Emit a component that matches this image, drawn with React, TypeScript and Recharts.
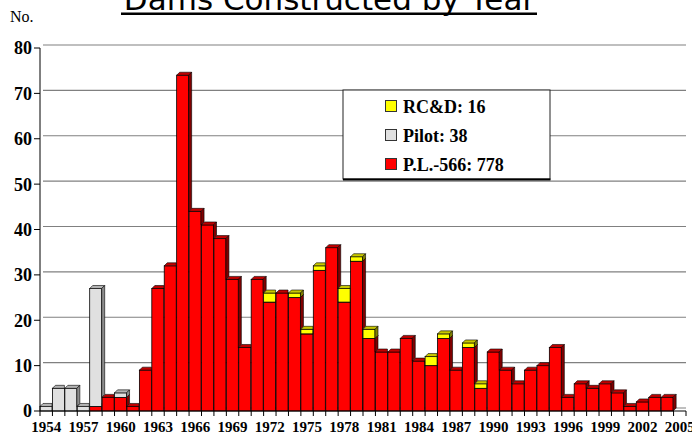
import { Bar, BarChart, CartesianGrid, XAxis, YAxis } from "recharts";

const years = [
  "1954", "1955", "1956", "1957", "1958", "1959", "1960", "1961", "1962", "1963",
  "1964", "1965", "1966", "1967", "1968", "1969", "1970", "1971", "1972", "1973",
  "1974", "1975", "1976", "1977", "1978", "1979", "1980", "1981", "1982", "1983",
  "1984", "1985", "1986", "1987", "1988", "1989", "1990", "1991", "1992", "1993",
  "1994", "1995", "1996", "1997", "1998", "1999", "2000", "2001", "2002", "2003",
  "2004", "2005",
];

// P.L.-566 dams per year (red)
const plValues = [
  0, 0, 0, 0, 1, 3, 3, 1, 9, 27,
  32, 74, 44, 41, 38, 29, 14, 29, 24, 26,
  25, 17, 31, 36, 24, 33, 16, 13, 13, 16,
  11, 10, 16, 9, 14, 5, 13, 9, 6, 9,
  10, 14, 3, 6, 5, 6, 4, 1, 2, 3,
  3, 0,
];

// Pilot dams (grey)
const pilotValues = [
  1, 5, 5, 1, 26, 0, 1, 0, 0, 0,
  0, 0, 0, 0, 0, 0, 0, 0, 0, 0,
  0, 0, 0, 0, 0, 0, 0, 0, 0, 0,
  0, 0, 0, 0, 0, 0, 0, 0, 0, 0,
  0, 0, 0, 0, 0, 0, 0, 0, 0, 0,
  0, 0,
];

// RC&D dams (yellow)
const rcdValues = [
  0, 0, 0, 0, 0, 0, 0, 0, 0, 0,
  0, 0, 0, 0, 0, 0, 0, 0, 2, 0,
  1, 1, 1, 0, 3, 1, 2, 0, 0, 0,
  0, 2, 1, 0, 1, 1, 0, 0, 0, 0,
  0, 0, 0, 0, 0, 0, 0, 0, 0, 0,
  0, 0,
];

const yTicks = [0, 10, 20, 30, 40, 50, 60, 70, 80];

const legendLabels = ["RC&D: 16", "Pilot: 38", "P.L.-566: 778"];

const SERIF = "'Liberation Serif', 'Times New Roman', serif";
const DEPTH = 3;

const chartData = years.map((year, i) => ({
  year,
  pl: plValues[i],
  pilot: pilotValues[i],
  rcd: rcdValues[i],
}));

const totals = years.map((_, i) => plValues[i] + pilotValues[i] + rcdValues[i]);

type Faces = { front: string; top: string; side: string };

const RED: Faces = { front: "#ff0000", top: "#c00000", side: "#800000" };
const GREY: Faces = { front: "#e0e0e0", top: "#b4b4b4", side: "#8c8c8c" };
const YELLOW: Faces = { front: "#ffff00", top: "#c8c800", side: "#808000" };

const legendColors = [YELLOW.front, GREY.front, RED.front];

function make3dBar(
  valueOf: (i: number) => number,
  bottomOf: (i: number) => number,
  faces: Faces
) {
  return function Bar3d(props: any) {
    const { x, y, width: w, height: h } = props;
    const i =
      typeof props.index === "number"
        ? props.index
        : years.indexOf(props.payload?.year);
    const v = valueOf(i);
    if (!v || !h || h <= 0) return <g />;
    const unit = h / v;
    const base = y + h + bottomOf(i) * unit;
    const nextTop = base - (totals[i + 1] ?? 0) * unit;
    const d = DEPTH;
    const yTop = y;
    const yBot = y + h;

    // hide the parts of the top/side faces that the next bar would cover
    const topPts =
      nextTop > yTop
        ? `${x},${yTop} ${x + d},${yTop - d} ${x + w + d},${yTop - d} ${x + w},${yTop}`
        : `${x},${yTop} ${x + d},${yTop - d} ${x + w},${yTop - d} ${x + w},${yTop}`;
    const sideBottom = Math.min(yBot, nextTop);

    return (
      <g>
        <rect
          x={x}
          y={yTop}
          width={w}
          height={h}
          fill={faces.front}
          stroke="#000"
          strokeWidth={0.8}
        />
        <polygon
          points={topPts}
          fill={faces.top}
          stroke="#000"
          strokeWidth={0.6}
        />
        {sideBottom > yTop && (
          <polygon
            points={`${x + w},${yTop} ${x + w + d},${yTop - d} ${x + w + d},${sideBottom - d} ${x + w},${sideBottom}`}
            fill={faces.side}
            stroke="#000"
            strokeWidth={0.6}
          />
        )}
      </g>
    );
  };
}

const PlShape = make3dBar((i) => plValues[i], () => 0, RED);
const PilotShape = make3dBar((i) => pilotValues[i], (i) => plValues[i], GREY);
const RcdShape = make3dBar(
  (i) => rcdValues[i],
  (i) => plValues[i] + pilotValues[i],
  YELLOW
);

function YearTick(props: any) {
  const { x, y, payload } = props;
  const idx = years.indexOf(String(payload.value));
  const half = payload.offset ?? 6.2;
  const left = x - half;
  return (
    <g>
      <line x1={left} y1={y} x2={left} y2={y + 5} stroke="#000" strokeWidth={1} />
      {idx === years.length - 1 && (
        <line x1={x + half} y1={y} x2={x + half} y2={y + 5} stroke="#000" strokeWidth={1} />
      )}
      {idx % 3 === 0 && (
        <text
          x={x}
          y={y + 21}
          textAnchor="middle"
          fontFamily={SERIF}
          fontWeight={700}
          fontSize={15}
          fill="#000"
        >
          {payload.value}
        </text>
      )}
    </g>
  );
}

export default function App() {
  return (
    <div
      style={{
        position: "absolute",
        left: 0,
        top: 0,
        width: 692,
        height: 435,
        background: "#fff",
        overflow: "hidden",
      }}
    >
      <BarChart
        width={692}
        height={435}
        data={chartData}
        margin={{ top: 48, right: 6, bottom: 0, left: 0 }}
        barCategoryGap={0}
        barGap={0}
      >
        <CartesianGrid
          vertical={false}
          horizontal={(p: any) => (
            <line
              key={p.key}
              x1={p.x1 + DEPTH}
              y1={p.y1 - DEPTH}
              x2={p.x2}
              y2={p.y2 - DEPTH}
              stroke="#808080"
              strokeWidth={1.2}
            />
          )}
        />
        <XAxis
          dataKey="year"
          interval={0}
          tickSize={0}
          tickMargin={0}
          tickLine={false}
          axisLine={{ stroke: "#000", strokeWidth: 1 }}
          height={24}
          tick={<YearTick />}
        />
        <YAxis
          domain={[0, 80]}
          ticks={yTicks}
          interval={0}
          width={40}
          tickSize={6}
          tickMargin={2}
          axisLine={{ stroke: "#000", strokeWidth: 1 }}
          tickLine={{ stroke: "#000", strokeWidth: 1 }}
          tick={{
            fill: "#000",
            fontSize: 18,
            fontWeight: 700,
            fontFamily: SERIF,
          }}
        />
        <Bar dataKey="pl" stackId="a" shape={<PlShape />} isAnimationActive={false} />
        <Bar dataKey="pilot" stackId="a" shape={<PilotShape />} isAnimationActive={false} />
        <Bar dataKey="rcd" stackId="a" shape={<RcdShape />} isAnimationActive={false} />
      </BarChart>

      <svg
        width={692}
        height={435}
        style={{ position: "absolute", left: 0, top: 0, pointerEvents: "none" }}
      >
        <text
          x={329.5}
          y={10}
          textAnchor="middle"
          fontFamily="'DejaVu Sans', Verdana, sans-serif"
          fontSize={31}
          fill="#000"
        >
          Dams Constructed by Year
        </text>
        <line x1={121} y1={13.7} x2={537} y2={13.7} stroke="#000" strokeWidth={2.5} />
        <text x={10} y={21.5} fontFamily={SERIF} fontSize={16} fill="#000">
          No.
        </text>

        <rect x={343} y={90} width={207} height={89} fill="#fff" stroke="#222" strokeWidth={1} />
        <line x1={343} y1={179.5} x2={550.5} y2={179.5} stroke="#000" strokeWidth={2} />
        {legendLabels.map((label, i) => (
          <g key={label}>
            <rect
              x={385.5}
              y={100.5 + i * 29}
              width={11}
              height={11}
              fill={legendColors[i]}
              stroke="#333"
              strokeWidth={1}
            />
            <text
              x={403}
              y={112.5 + i * 29}
              fontFamily={SERIF}
              fontWeight={700}
              fontSize={18}
              fill="#000"
            >
              {label}
            </text>
          </g>
        ))}
      </svg>
    </div>
  );
}
